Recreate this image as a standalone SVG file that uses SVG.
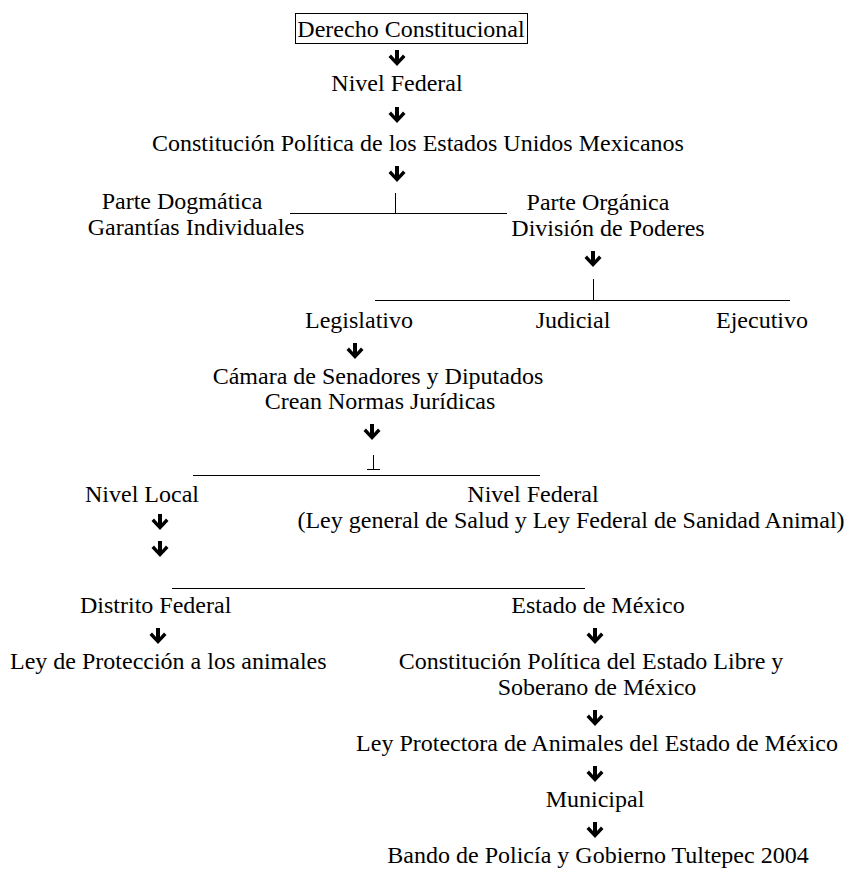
<svg xmlns="http://www.w3.org/2000/svg" width="849" height="873" viewBox="0 0 849 873">
<style>
text{font-family:"Liberation Serif","Times New Roman",serif;font-size:24px;fill:#000}
.m{text-anchor:middle}
.ln{stroke:#000;stroke-width:1;fill:none}
</style>
<defs>
<path id="arr" d="M-2,0 L2,0 L2,9 L6,4.5 L8.5,7 L0,16 L-8.5,7 L-6,4.5 L-2,9 Z" fill="#000"/>
</defs>
<rect width="849" height="873" fill="#fff"/>
<g id="n-derecho"><rect x="295.5" y="13.5" width="232" height="30" class="ln"/><text x="411" y="37" class="m">Derecho Constitucional</text></g>
<g id="n-nivelfed1"><text x="397" y="91" class="m">Nivel Federal</text></g>
<g id="n-const"><text x="152" y="151">Constitución Política de los Estados Unidos Mexicanos</text></g>
<g id="n-dogm"><text x="182" y="209" class="m">Parte Dogmática</text><text x="196" y="235" class="m">Garantías Individuales</text></g>
<g id="n-organ"><text x="598" y="210" class="m">Parte Orgánica</text><text x="608" y="236" class="m">División de Poderes</text></g>
<g id="n-legis"><text x="359" y="328" class="m">Legislativo</text></g>
<g id="n-judic"><text x="573" y="328" class="m">Judicial</text></g>
<g id="n-ejec"><text x="762" y="328" class="m">Ejecutivo</text></g>
<g id="n-camara"><text x="378" y="384" class="m">Cámara de Senadores y Diputados</text><text x="380" y="409" class="m">Crean Normas Jurídicas</text></g>
<g id="n-local"><text x="85" y="502">Nivel Local</text></g>
<g id="n-nivelfed2"><text x="533" y="502" class="m">Nivel Federal</text><text x="571" y="528" class="m">(Ley general de Salud y Ley Federal de Sanidad Animal)</text></g>
<g id="n-df"><text x="80" y="613">Distrito Federal</text></g>
<g id="n-edomex"><text x="598" y="613" class="m">Estado de México</text></g>
<g id="n-leydf"><text x="10" y="669">Ley de Protección a los animales</text></g>
<g id="n-constedo"><text x="591" y="669" class="m">Constitución Política del Estado Libre y</text><text x="597" y="695" class="m">Soberano de México</text></g>
<g id="n-leyprot"><text x="597" y="751" class="m">Ley Protectora de Animales del Estado de México</text></g>
<g id="n-muni"><text x="595" y="807" class="m">Municipal</text></g>
<g id="n-bando"><text x="598" y="863" class="m">Bando de Policía y Gobierno Tultepec 2004</text></g>
<g id="connectors">
<use href="#arr" x="397" y="50"/>
<use href="#arr" x="397" y="107"/>
<use href="#arr" x="397" y="166"/>
<path class="ln" d="M290,213.5 H507 M395.5,193 V213"/>
<use href="#arr" x="593" y="251"/>
<path class="ln" d="M375,300.5 H790 M593.5,279 V300"/>
<use href="#arr" x="355" y="343"/>
<use href="#arr" x="372" y="424"/>
<path class="ln" d="M373.5,455 V469 M367,469.5 H380 M193,475.5 H540"/>
<use href="#arr" x="160" y="514"/>
<use href="#arr" x="160" y="541"/>
<path class="ln" d="M172,588.5 H585"/>
<use href="#arr" x="158" y="628"/>
<use href="#arr" x="595" y="628"/>
<use href="#arr" x="595" y="710"/>
<use href="#arr" x="595" y="766"/>
<use href="#arr" x="595" y="822"/>
</g>
</svg>
